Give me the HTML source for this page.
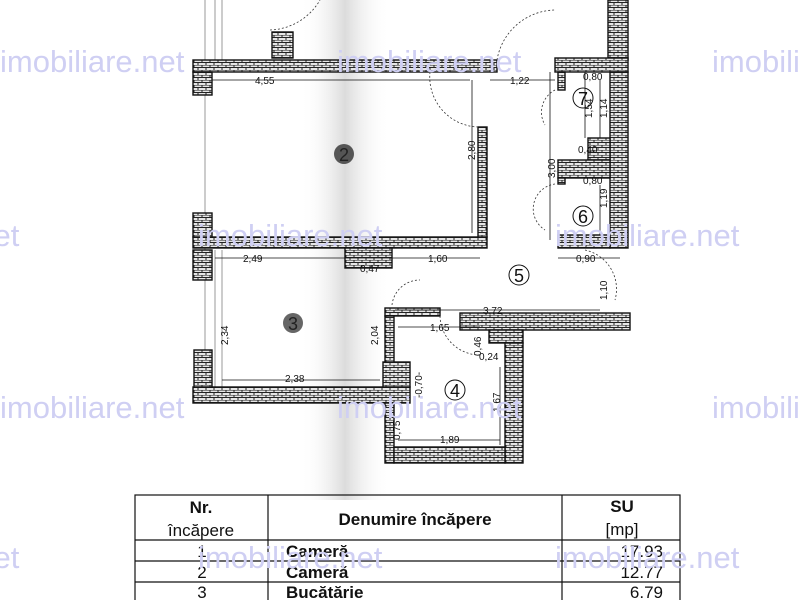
<!DOCTYPE html>
<html><head><meta charset="utf-8"><style>
html,body{margin:0;padding:0;background:#fff;}
svg{display:block;font-family:"Liberation Sans",sans-serif;}
.wm{fill:#cfcff3;font-size:31px;font-family:"Liberation Sans",sans-serif;}
.d{font-size:10px;fill:#111;}
</style></head><body>
<svg width="800" height="600" viewBox="0 0 800 600" xmlns="http://www.w3.org/2000/svg">
<defs>
<pattern id="br" width="8" height="5" patternUnits="userSpaceOnUse">
<rect width="8" height="5" fill="#e6e6e6"/>
<path d="M0 0H8M0 2.5H8M2 0V2.5M6 2.5V5" stroke="#222" stroke-width="1"/>
</pattern>
<linearGradient id="band" x1="0" x2="1">
<stop offset="0" stop-color="#fff" stop-opacity="0"/>
<stop offset="0.5" stop-color="#999" stop-opacity="0.35"/>
<stop offset="1" stop-color="#fff" stop-opacity="0"/>
</linearGradient>
</defs>
<rect width="800" height="600" fill="#fff"/>
<rect x="300" y="0" width="90" height="500" fill="url(#band)"/>
<g stroke="#999" stroke-width="1">
<line x1="205" y1="0" x2="205" y2="390"/><line x1="215" y1="0" x2="215" y2="60"/><line x1="222" y1="0" x2="222" y2="60"/>
<line x1="215" y1="250" x2="215" y2="390"/><line x1="222" y1="250" x2="222" y2="390"/>
</g>
<g fill="url(#br)" stroke="#111" stroke-width="1.4">
<rect x="193" y="60" width="304" height="12"/>
<rect x="193" y="72" width="19" height="23"/>
<rect x="272" y="32" width="21" height="26"/>
<rect x="193" y="237" width="294" height="11"/>
<rect x="478" y="127" width="9" height="110"/>
<rect x="193" y="213" width="19" height="24"/>
<rect x="193" y="250" width="19" height="30"/>
<rect x="345" y="248" width="47" height="20"/>
<rect x="608" y="0" width="20" height="60"/>
<rect x="555" y="58" width="73" height="14"/>
<rect x="610" y="72" width="18" height="176"/>
<rect x="558" y="72" width="7" height="18"/>
<rect x="588" y="138" width="22" height="22"/>
<rect x="558" y="160" width="52" height="18"/>
<rect x="558" y="178" width="7" height="6"/>
<rect x="558" y="235" width="52" height="13"/>
<rect x="385" y="308" width="55" height="8"/>
<rect x="460" y="313" width="170" height="17"/>
<rect x="489" y="330" width="34" height="13"/>
<rect x="505" y="343" width="18" height="120"/>
<rect x="385" y="316" width="9" height="147"/>
<rect x="394" y="447" width="111" height="16"/>
<rect x="193" y="387" width="217" height="16"/>
<rect x="383" y="362" width="27" height="25"/>
<rect x="194" y="350" width="18" height="37"/>
</g>
<g fill="none" stroke="#333" stroke-width="0.8" stroke-dasharray="2 2">
<path d="M497 60 A60 60 0 0 1 555 10"/>
<path d="M430 72 A50 50 0 0 0 478 127"/>
<path d="M555 90 A25 25 0 0 0 545 125"/>
<path d="M555 184 A25 25 0 0 0 545 230"/>
<path d="M392 305 A28 28 0 0 1 420 280"/>
<path d="M440 316 A40 40 0 0 0 480 355"/>
<path d="M585 250 A40 40 0 0 1 615 300"/>
<path d="M270 30 A60 60 0 0 0 320 0"/>
</g>
<g stroke="#111" stroke-width="0.8">
<line x1="212" y1="80" x2="470" y2="80"/><line x1="490" y1="80" x2="555" y2="80"/>
<line x1="472" y1="80" x2="472" y2="233"/>
<line x1="215" y1="258" x2="480" y2="258"/>
<line x1="395" y1="310" x2="600" y2="310"/>
<line x1="398" y1="327" x2="480" y2="327"/>
<line x1="500" y1="367" x2="500" y2="445"/>
<line x1="398" y1="440" x2="500" y2="440"/>
<line x1="550" y1="72" x2="550" y2="240"/>
<line x1="585" y1="72" x2="585" y2="138"/>
<line x1="600" y1="80" x2="600" y2="138"/>
<line x1="600" y1="185" x2="600" y2="235"/>
<line x1="558" y1="258" x2="620" y2="258"/>
<line x1="222" y1="380" x2="380" y2="380"/>
</g>
<g class="d">
<text x="255" y="84" >4,55</text>
<text x="510" y="84">1,22</text><text x="583" y="80">0,80</text>
<text x="475" y="160" transform="rotate(-90 475 160)">2,80</text>
<text x="578" y="153">0,40</text><text x="583" y="184">0,80</text>
<text x="555" y="178" transform="rotate(-90 555 178)">3,00</text>
<text x="592" y="118" transform="rotate(-90 592 118)">1,54</text>
<text x="607" y="118" transform="rotate(-90 607 118)">1,14</text>
<text x="607" y="208" transform="rotate(-90 607 208)">1,19</text>
<text x="243" y="262">2,49</text><text x="428" y="262">1,60</text><text x="360" y="272">0,47</text>
<text x="576" y="262">0,90</text>
<text x="607" y="300" transform="rotate(-90 607 300)">1,10</text>
<text x="483" y="314">3,72</text><text x="430" y="331">1,65</text>
<text x="481" y="356" transform="rotate(-90 481 356)">0,46</text><text x="479" y="360">0,24</text>
<text x="228" y="345" transform="rotate(-90 228 345)">2,34</text>
<text x="378" y="345" transform="rotate(-90 378 345)">2,04</text>
<text x="422" y="398" transform="rotate(-90 422 398)">-0,70-</text>
<text x="500" y="412" transform="rotate(-90 500 412)">1,67</text>
<text x="440" y="443">1,89</text><text x="285" y="382">2,38</text>
<text x="400" y="440" transform="rotate(-90 400 440)">0,75</text>
</g>
<g font-size="18" fill="#111" text-anchor="middle">
<circle cx="344" cy="154" r="10" fill="#555"/><text x="344" y="161" fill="#222">2</text>
<circle cx="293" cy="323" r="10" fill="#666"/><text x="293" y="330" fill="#222">3</text>
<circle cx="455" cy="390" r="10" fill="none" stroke="#111"/><text x="455" y="397">4</text>
<circle cx="519" cy="275" r="10" fill="none" stroke="#111"/><text x="519" y="282">5</text>
<circle cx="583" cy="216" r="10" fill="none" stroke="#111"/><text x="583" y="223">6</text>
<circle cx="583" cy="98" r="10" fill="none" stroke="#111"/><text x="583" y="105">7</text>
</g>
<g stroke="#111" stroke-width="1.2" fill="none">
<rect x="135" y="495" width="545" height="110"/>
<line x1="268" y1="495" x2="268" y2="600"/><line x1="562" y1="495" x2="562" y2="600"/>
<line x1="135" y1="540" x2="680" y2="540"/><line x1="135" y1="561" x2="680" y2="561"/><line x1="135" y1="582" x2="680" y2="582"/>
</g>
<g font-size="17" fill="#111">
<text x="201" y="513" text-anchor="middle" font-weight="bold">Nr.</text>
<text x="201" y="536" text-anchor="middle">încăpere</text>
<text x="415" y="525" text-anchor="middle" font-weight="bold">Denumire încăpere</text>
<text x="622" y="512" text-anchor="middle" font-weight="bold">SU</text>
<text x="622" y="535" text-anchor="middle">[mp]</text>
<text x="202" y="557" text-anchor="middle">1</text><text x="202" y="578" text-anchor="middle">2</text><text x="202" y="598" text-anchor="middle">3</text>
<text x="286" y="557" font-weight="bold">Cameră</text><text x="286" y="578" font-weight="bold">Cameră</text><text x="286" y="598" font-weight="bold">Bucătărie</text>
<text x="663" y="557" text-anchor="end">17.93</text><text x="663" y="578" text-anchor="end">12.77</text><text x="663" y="598" text-anchor="end">6.79</text>
</g>
<g class="wm">
<text x="0" y="72">imobiliare.net</text><text x="337" y="72">imobiliare.net</text><text x="712" y="72">imobiliare.net</text>
<text x="-165" y="246">imobiliare.net</text><text x="198" y="246">imobiliare.net</text><text x="555" y="246">imobiliare.net</text>
<text x="0" y="418">imobiliare.net</text><text x="337" y="418">imobiliare.net</text><text x="712" y="418">imobiliare.net</text>
<text x="-165" y="568">imobiliare.net</text><text x="198" y="568">imobiliare.net</text><text x="555" y="568">imobiliare.net</text>
</g>
</svg>
</body></html>
